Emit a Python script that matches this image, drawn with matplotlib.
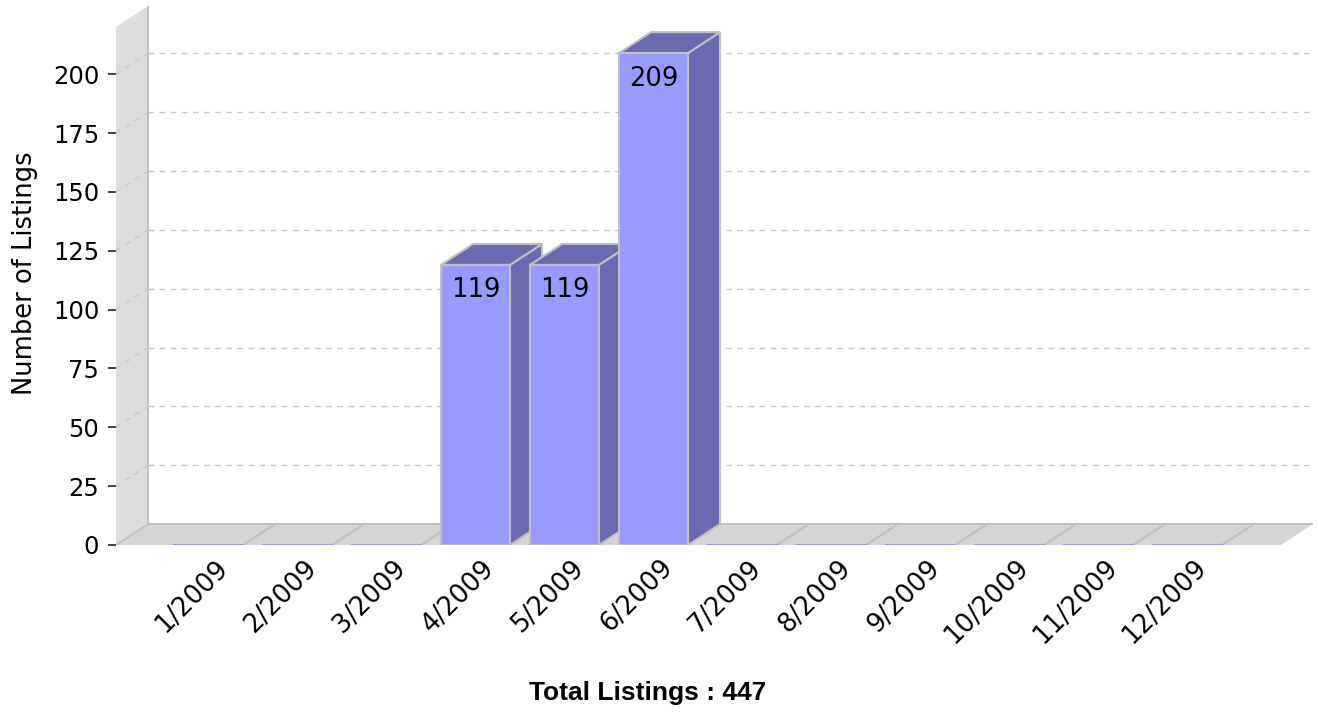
import matplotlib.pyplot as plt
from matplotlib.patches import Polygon
from matplotlib.transforms import ScaledTranslation

months = ["1/2009", "2/2009", "3/2009", "4/2009", "5/2009", "6/2009",
          "7/2009", "8/2009", "9/2009", "10/2009", "11/2009", "12/2009"]
listings = [0, 0, 0, 119, 119, 209, 0, 0, 0, 0, 0, 0]
y_ticks = [0, 25, 50, 75, 100, 125, 150, 175, 200]

total = sum(listings)

# 3d look: depth offset in data units
DX, DY = 0.36, 8.9
BAR_W = 0.775
X0, X1 = -1.039, 12.41
YTOP = 229

FRONT = "#9999ff"
SIDE = "#6a6ab0"
EDGE = "#c0c0c0"

plt.rcParams["font.family"] = "DejaVu Sans"

fig = plt.figure(figsize=(13.18, 7.14), dpi=100)
ax = fig.add_axes([116 / 1318, 1 - 545 / 714, (1313 - 116) / 1318, 539 / 714])
ax.set_xlim(X0, X1)
ax.set_ylim(0, YTOP)
for s in ax.spines.values():
    s.set_visible(False)

# back wall and floor
ax.add_patch(Polygon([(X0, 0), (X0, YTOP - DY), (X0 + DX, YTOP), (X0 + DX, DY)],
                     closed=True, fc="#dddddd", ec="none", zorder=0))
ax.add_patch(Polygon([(X0, 0), (X1 - DX, 0), (X1, DY), (X0 + DX, DY)],
                     closed=True, fc="#d5d5d5", ec="none", zorder=0))
ax.plot([X0 + DX, X0 + DX, X1], [YTOP, DY, DY], color=EDGE, lw=1.5, zorder=1)
ax.plot([X0, X0 + DX], [0, DY], color=EDGE, lw=1.2, zorder=1)

# grid lines on back plane + wall
for v in y_ticks[1:]:
    ax.plot([X0 + DX, X1], [v + DY, v + DY], color="#c8c8c8", lw=1,
            ls=(0, (4, 4)), zorder=1)
    ax.plot([X0, X0 + DX], [v, v + DY], color="#c8c8c8", lw=1,
            ls=(0, (4, 4)), zorder=1)

# bars
for i, v in enumerate(listings):
    xl, xr = i - BAR_W / 2, i + BAR_W / 2
    z = 3 + i
    if v > 0:
        ax.add_patch(Polygon([(xr, 0), (xr + DX, DY), (xr + DX, v + DY), (xr, v)],
                             closed=True, fc=SIDE, ec=EDGE, lw=1.5, zorder=z))
        ax.add_patch(Polygon([(xl, v), (xl + DX, v + DY), (xr + DX, v + DY), (xr, v)],
                             closed=True, fc=SIDE, ec=EDGE, lw=1.5, zorder=z))
        ax.add_patch(Polygon([(xl, 0), (xl, v), (xr, v), (xr, 0)],
                             closed=True, fc=FRONT, ec=EDGE, lw=1.5, zorder=z))
        ax.annotate(str(v), (i, v), xytext=(0, -9), textcoords="offset points",
                    ha="center", va="top", fontsize=18.5, zorder=z + 1)
    else:
        ax.plot([xr, xr + DX], [0, DY], color=EDGE, lw=1.5, zorder=2)
        ax.plot([xl, xr], [0, 0], color=FRONT, lw=1.5, zorder=2)

ax.set_yticks(y_ticks)
ax.set_yticklabels([str(t) for t in y_ticks], fontsize=17.5)
ax.tick_params(axis="y", length=6, width=1.2, color="#222222", pad=6)
ax.set_xticks([])

# rotated category labels
off = ScaledTranslation(0.155, -0.19, fig.dpi_scale_trans)
for i, m in enumerate(months):
    ax.text(i, 0, m, transform=ax.get_xaxis_transform() + off,
            ha="right", va="center", rotation=45, rotation_mode="anchor",
            fontsize=18.5)

fig.text(25 / 1318, 1 - 273 / 714, "Number of Listings", rotation=90,
         ha="center", va="center", fontsize=18.5)
fig.text(648 / 1318, 1 - 693 / 714, f"Total Listings : {total}",
         ha="center", va="center", fontsize=19, fontweight="bold",
         family="Liberation Sans")

fig.savefig("out.png", dpi=100)
